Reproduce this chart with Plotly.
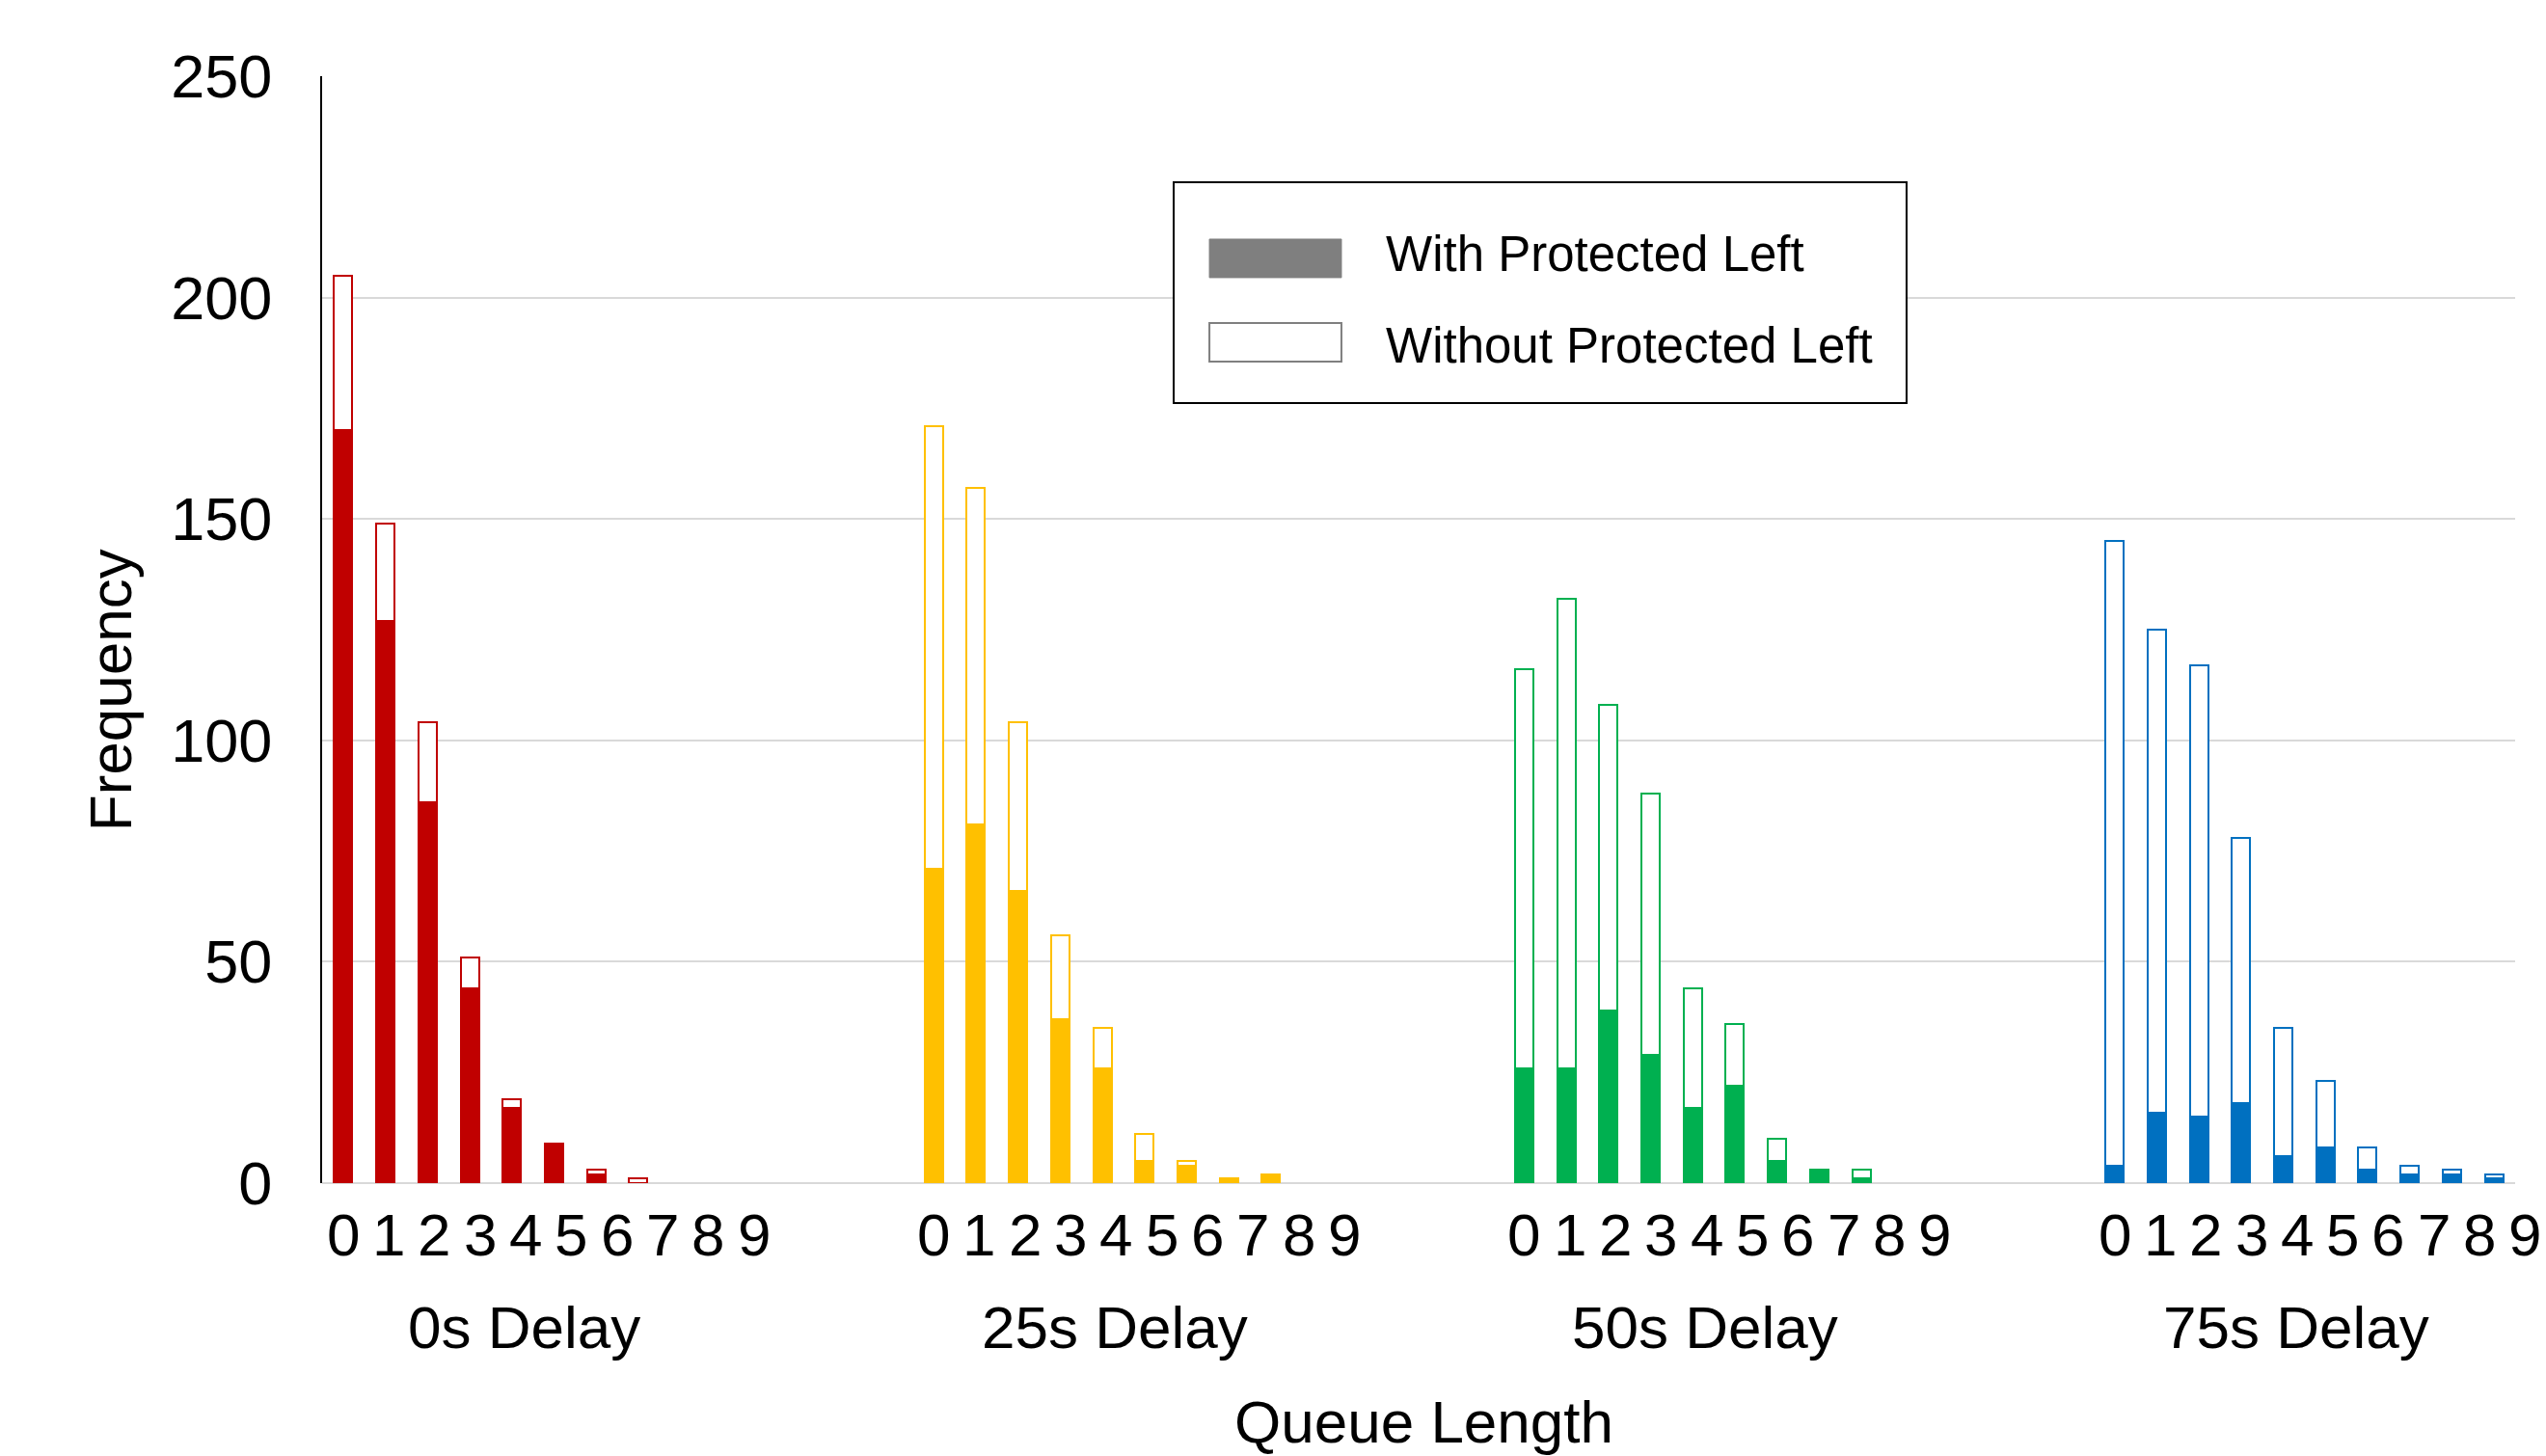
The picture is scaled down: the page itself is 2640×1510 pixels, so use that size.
import plotly.graph_objects as go

# Queue-length frequency histograms for four signal delays
delay_groups = ["0s Delay", "25s Delay", "50s Delay", "75s Delay"]
queue_lengths = [0, 1, 2, 3, 4, 5, 6, 7, 8, 9]

with_protected_0s = [170, 127, 86, 44, 17, 9, 2, 0, 0, 0]
without_protected_0s = [205, 149, 104, 51, 19, 9, 3, 1, 0, 0]

with_protected_25s = [71, 81, 66, 37, 26, 5, 4, 1, 2, 0]
without_protected_25s = [171, 157, 104, 56, 35, 11, 5, 1, 2, 0]

with_protected_50s = [26, 26, 39, 29, 17, 22, 5, 3, 1, 0]
without_protected_50s = [116, 132, 108, 88, 44, 36, 10, 3, 3, 0]

with_protected_75s = [4, 16, 15, 18, 6, 8, 3, 2, 2, 1]
without_protected_75s = [145, 125, 117, 78, 35, 23, 8, 4, 3, 2]

group_colors = ["#C00000", "#FFC000", "#00B050", "#0070C0"]

y_ticks = [0, 50, 100, 150, 200, 250]

with_series = [with_protected_0s, with_protected_25s, with_protected_50s, with_protected_75s]
without_series = [without_protected_0s, without_protected_25s,
                  without_protected_50s, without_protected_75s]

FONT = "Liberation Sans, Arial, Helvetica, sans-serif"
GROUP_STRIDE = 14      # category slots from one delay group to the next
LABEL_STEP = 1.082     # spacing of the queue-length labels, in slots
BAR_WIDTH = 0.435
X_RANGE = [-0.5, 51.5]


def nonzero(values):
    return [v if v else None for v in values]


def x_to_paper(x):
    return (x - X_RANGE[0]) / (X_RANGE[1] - X_RANGE[0])


fig = go.Figure()

for g, name in enumerate(delay_groups):
    xs = [g * GROUP_STRIDE + q for q in queue_lengths]
    color = group_colors[g]
    # total without protected left: hollow outline bar
    fig.add_trace(go.Bar(
        x=xs, y=nonzero(without_series[g]), width=BAR_WIDTH,
        marker=dict(color="white", line=dict(color=color, width=2)),
        name=f"{name} – Without Protected Left", showlegend=False,
    ))
    # with protected left: solid bar drawn over the outline
    fig.add_trace(go.Bar(
        x=xs, y=nonzero(with_series[g]), width=BAR_WIDTH,
        marker=dict(color=color, line=dict(color=color, width=2)),
        name=f"{name} – With Protected Left", showlegend=False,
    ))

annotations = []

# queue-length labels under each group (they run slightly past the last bar)
for g in range(len(delay_groups)):
    for q in queue_lengths:
        annotations.append(dict(
            x=x_to_paper(g * GROUP_STRIDE + q * LABEL_STEP), xref="paper",
            y=-0.0462, yref="paper", text=str(q), showarrow=False,
            xanchor="center", yanchor="middle",
            font=dict(family=FONT, size=62, color="black"),
        ))

for g, name in enumerate(delay_groups):
    annotations.append(dict(
        x=x_to_paper(g * GROUP_STRIDE + 4.3), xref="paper", y=-0.13, yref="paper",
        text=name, showarrow=False, xanchor="center", yanchor="middle",
        font=dict(family=FONT, size=62, color="black"),
    ))

annotations.append(dict(
    x=0.5026, xref="paper", y=-0.216, yref="paper", text="Queue Length",
    showarrow=False, xanchor="center", yanchor="middle",
    font=dict(family=FONT, size=62, color="black"),
))
annotations.append(dict(
    x=-0.0967, xref="paper", y=0.445, yref="paper", text="Frequency",
    textangle=-90, showarrow=False, xanchor="center", yanchor="middle",
    font=dict(family=FONT, size=62, color="black"),
))

# legend box drawn with shapes
legend_entries = ["With Protected Left", "Without Protected Left"]
shapes = [
    dict(type="rect", xref="paper", yref="paper", x0=0.3883, x1=0.7225,
         y0=0.7047, y1=0.9042, line=dict(color="black", width=2),
         fillcolor="white", layer="above"),
    dict(type="rect", xref="paper", yref="paper", x0=0.4046, x1=0.4648,
         y0=0.8180, y1=0.8528, line=dict(color="#7F7F7F", width=1),
         fillcolor="#7F7F7F", layer="above"),
    dict(type="rect", xref="paper", yref="paper", x0=0.4046, x1=0.4648,
         y0=0.7422, y1=0.7770, line=dict(color="#7F7F7F", width=2),
         fillcolor="white", layer="above"),
]
for text, ypos in zip(legend_entries, [0.8390, 0.7565]):
    annotations.append(dict(
        x=0.4842, xref="paper", y=ypos, yref="paper", text=text,
        showarrow=False, xanchor="left", yanchor="middle",
        font=dict(family=FONT, size=51, color="black"),
    ))

fig.update_layout(
    width=2640, height=1510,
    margin=dict(l=334, r=32, t=79, b=283),
    paper_bgcolor="white", plot_bgcolor="white",
    barmode="overlay", bargap=0,
    font=dict(family=FONT, color="black"),
    shapes=shapes, annotations=annotations,
    showlegend=False,
)

fig.update_xaxes(
    range=X_RANGE, showticklabels=False,
    showgrid=False, zeroline=False, showline=False, ticks="",
)
fig.update_yaxes(
    range=[0, 250], tickmode="array", tickvals=y_ticks,
    showgrid=True, gridcolor="#D9D9D9", gridwidth=2,
    zeroline=True, zerolinecolor="#D9D9D9", zerolinewidth=2,
    showline=True, linecolor="black", linewidth=2, ticks="",
    tickfont=dict(family=FONT, size=63, color="black"), ticklabelstandoff=37,
)

fig.write_html("out.html")
